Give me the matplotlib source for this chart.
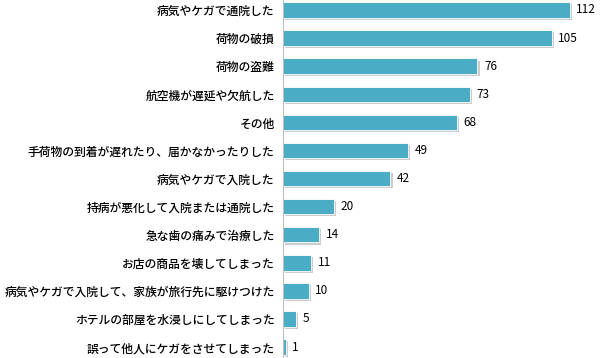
import matplotlib
matplotlib.use('Agg')
import matplotlib.pyplot as plt
import matplotlib.patheffects as pe

plt.rcParams['font.family'] = ['Noto Sans CJK JP', 'DejaVu Sans']

# 項目と件数
labels = [
    '病気やケガで通院した',
    '荷物の破損',
    '荷物の盗難',
    '航空機が遅延や欠航した',
    'その他',
    '手荷物の到着が遅れたり、届かなかったりした',
    '病気やケガで入院した',
    '持病が悪化して入院または通院した',
    '急な歯の痛みで治療した',
    'お店の商品を壊してしまった',
    '病気やケガで入院して、家族が旅行先に駆けつけた',
    'ホテルの部屋を水浸しにしてしまった',
    '誤って他人にケガをさせてしまった',
]
counts = [112, 105, 76, 73, 68, 49, 42, 20, 14, 11, 10, 5, 1]

bar_color = '#4bacc6'

fig = plt.figure(figsize=(6, 3.58), dpi=100)
ax = fig.add_axes([283 / 600, 0, 307 / 600, 1])

ys = list(range(len(labels)))
bars = ax.barh(ys, counts, height=0.55, color=bar_color, edgecolor='white', linewidth=0.6)
for b in bars:
    b.set_path_effects([pe.SimplePatchShadow(offset=(1.5, -1.5), shadow_rgbFace='#9a9a9a', alpha=0.5),
                        pe.Normal()])

for y, v in zip(ys, counts):
    ax.text(v + 2.6, y, str(v), va='center', ha='left', fontsize=8.5, color='#000000')

ax.set_xlim(0, 120)
ax.set_ylim(12.39, -0.356)
ax.set_yticks(ys)
ax.set_yticklabels(labels, fontsize=8.5, color='#000000', fontweight='medium')
ax.tick_params(axis='y', length=0, pad=6)
ax.set_xticks([])
for s in ['top', 'right', 'bottom']:
    ax.spines[s].set_visible(False)
ax.spines['left'].set_color('#bfbfbf')
ax.spines['left'].set_linewidth(0.8)
ax.set_facecolor('none')

fig.savefig('out.png', dpi=100, facecolor='white')
